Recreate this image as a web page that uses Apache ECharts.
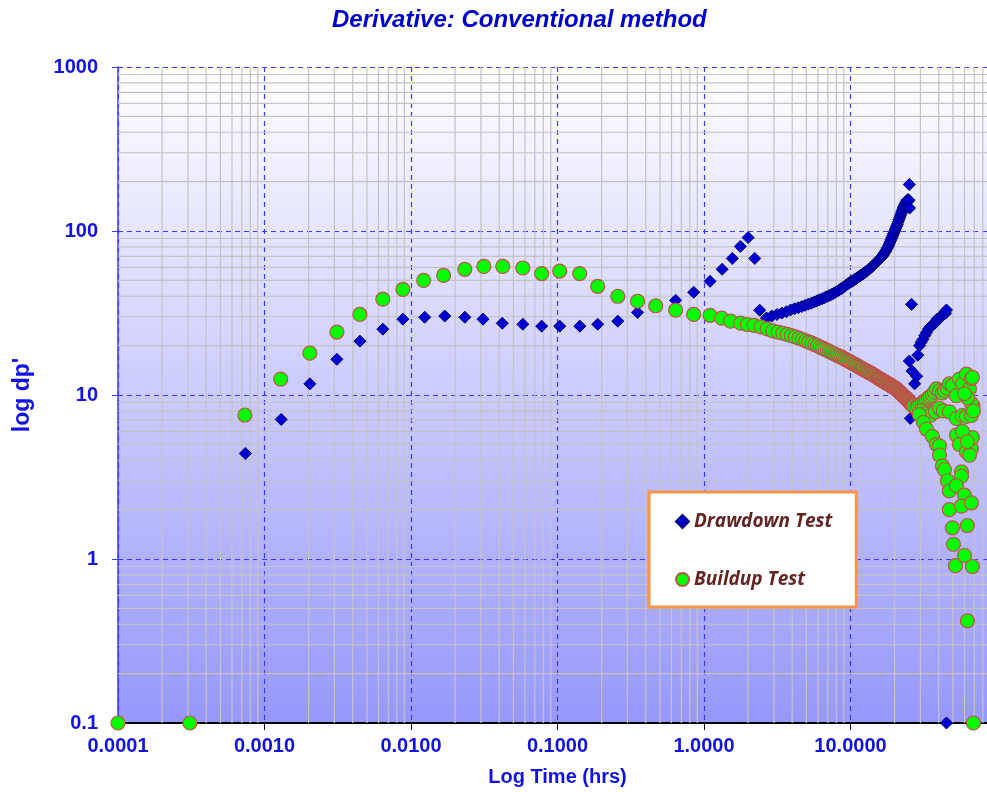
<!DOCTYPE html>
<html>
<head>
<meta charset="utf-8">
<script src="https://cdn.jsdelivr.net/npm/echarts@6/dist/echarts.min.js"></script>
<style>
html,body{margin:0;padding:0;overflow:hidden;background:#fff;}
#chart{width:1000px;height:792px;}
</style>
</head>
<body>
<div id="chart"></div>
<script>
// ---- data: [time (hrs), dp'] ----
const drawdownEarly = [[0.00074,4.4],[0.0013,7.1],[0.00204,11.7],[0.00312,16.5],[0.00448,21.3],[0.00642,25.2],[0.0088,29],[0.0124,29.8],[0.017,30.3],[0.0233,29.8],[0.031,29],[0.042,27.4],[0.058,27],[0.078,26.3],[0.1035,26.3],[0.142,26.3],[0.188,27],[0.258,28.2],[0.352,31.9],[0.47,35.5],[0.64,37.8],[0.85,42.3],[1.1,49.3],[1.33,58.4],[1.56,68],[1.77,80.5],[2.0,91.2],[2.22,68],[2.4,32.9]];
const drawdownMid = [[2.67,29.5],[2.9,30.3],[3.15,31.0],[3.4,31.6],[3.65,32.2],[3.9,33.0],[4.15,33.6],[4.4,34.1],[4.65,34.6],[4.9,35.2],[5.15,35.8],[5.4,36.3],[5.65,36.9],[5.9,37.5],[6.15,38.1],[6.4,38.6],[6.65,39.2],[6.9,39.8],[7.15,40.4],[7.4,41.0],[7.65,41.6],[7.9,42.3],[8.15,43.0],[8.4,43.8],[8.65,44.5],[8.9,45.3],[9.15,46.1],[9.4,47.0],[9.65,47.9],[9.9,48.5],
  [10.15,49.1],[10.4,49.8],[10.65,50.5],[10.9,51.2],[11.15,51.9],[11.4,52.6],[11.65,53.3],[11.9,54.0],[12.15,54.7],[12.4,55.4],[12.65,56.2],[12.9,57.0],[13.15,57.8],[13.4,58.6],[13.65,59.4],[13.9,60.3],[14.15,61.1],[14.4,62.0],[14.65,62.9],[14.9,63.8],[15.15,64.7],[15.4,65.7],[15.65,66.7],[15.9,67.7],[16.15,68.7],[16.4,69.8],[16.65,71.1],[16.9,72.5],[17.15,74.0],[17.4,75.6],[17.65,77.3],[17.9,79.0],[18.15,81.2],[18.4,83.5],[18.65,86.0],[18.9,88.5],[19.15,91.0],[19.4,93.5],[19.65,96.2],[19.9,99],[20.15,101.5],[20.4,104],[20.65,107],[20.9,110],[21.15,113.5],[21.4,117],[21.65,120.5],[21.9,124],[22.15,127.5],[22.4,131],[22.65,134.5],[22.9,138],[23.15,141],[23.4,144],[23.65,147],[23.9,150],[24.15,152],[24.4,154],[24.65,155],[24.9,155],[25.0,153],[25.3,138],[25.2,192]];
const drawdownLate = [[26.1,35.7],[25.6,7.2],[25.2,16.1],[26.3,14.0],[27.4,11.7],[28.3,13.0],[28.8,17.5],[29.6,20],[30.4,21.0],[31.2,21.8],[32.1,23.0],[33.0,24.0],[34.0,25.2],[35.0,26.0],[35.9,26.6],[37.4,27.2],[38.2,28.0],[39.0,29.0],[40.5,29.6],[41.8,30.2],[43.0,31.0],[43.9,32.0],[44.5,31.5],[45.2,33.0],[45.2,0.1]];

const buildupEarly = [[0.0001,0.1],[0.00031,0.1],[0.000735,7.55],[0.00129,12.5],[0.00204,18],[0.00312,24.2],[0.00448,31],[0.00642,38.4],[0.0088,44],[0.0122,50],[0.0167,53.6],[0.0233,58.4],[0.0314,60.8],[0.0423,60.8],[0.058,59.5],[0.078,55],[0.1035,57],[0.1417,55],[0.188,46],[0.258,40],[0.352,37.3],[0.468,35],[0.64,32.9],[0.85,31],[1.1,30.6],[1.32,29.4],[1.52,28.2],[1.78,27.4],[1.98,26.9]];
const buildupMid = [[2.2,26.6],[2.45,26.0],[2.7,25.3],[2.95,24.6],[3.2,24.2],[3.45,23.8],[3.7,23.4],[3.95,23.0],[4.2,22.6],[4.45,22.2],[4.7,21.8],[4.95,21.4],[5.2,21.0],[5.45,20.7],[5.7,20.3],[5.95,20.0],[6.2,19.6],[6.45,19.3],[6.7,19.0],[6.95,18.7],[7.2,18.4],[7.45,18.1],[7.7,17.9],[7.95,17.6],[8.2,17.4],[8.45,17.2],[8.7,17.0],[8.95,16.7],[9.2,16.5],[9.45,16.3],[9.7,16.1],[9.95,15.9],
  [10.2,15.7],[10.45,15.5],[10.7,15.4],[10.95,15.2],[11.2,15.0],[11.45,14.8],[11.7,14.7],[11.95,14.5],[12.2,14.4],[12.45,14.2],[12.7,14.1],[12.95,14.0],[13.2,13.8],[13.45,13.7],[13.7,13.6],[13.95,13.5],[14.2,13.3],[14.45,13.2],[14.7,13.1],[14.95,13.0],[15.2,12.8],[15.45,12.7],[15.7,12.6],[15.95,12.5],[16.2,12.4],[16.45,12.3],[16.7,12.2],[16.95,12.1],[17.2,12.0],[17.45,11.9],[17.7,11.8],[17.95,11.7],[18.2,11.65],[18.45,11.6],[18.7,11.5],[18.95,11.4],[19.2,11.3],[19.45,11.2],[19.7,11.15],[19.95,11.1],[20.2,11.0],[20.45,10.9],[20.7,10.8],[20.95,10.7],[21.2,10.6],[21.45,10.5],[21.7,10.4],[21.95,10.3],[22.2,10.2],[22.45,10.1],[22.7,10.0],[22.95,9.9],[23.2,9.8],[23.45,9.7],[23.7,9.65],[23.95,9.6],[24.2,9.5],[24.45,9.4],[24.7,9.3],[24.95,9.2],[25.2,9.1],[25.45,9.0],[25.7,8.9],[25.95,8.8],[26.2,8.75],[26.45,8.7],[26.7,8.6],[26.95,8.5]];
const buildupLate = [[28,8.4],[29,8.6],[30,8.8],[31,9.0],[32,9.1],[33,9.3],[34,9.6],[35,9.8],[36.2,10.0],[37.4,10.4],[38.6,10.9],[40.5,10.6],[42.4,10.3],[43.8,10.6],[45.9,11.0],[47.3,11.7],[49.6,11.4],[52.8,9.9],[55.4,12.5],[58.1,11.7],[61.8,13.4],[64.9,10.9],[66.9,12.6],[68.0,12.8],[68.5,8.6],[66.9,8.9],[63,9.6],[60,10.2],
  [30.5,8.0],[32,7.7],[35,7.5],[38,7.9],[40.5,8.3],[43,8.0],[47.3,7.9],[52.8,7.2],[58,7.5],[61.8,7.4],[66.9,7.5],[69,8.0],
  [29.5,7.6],[31.5,6.8],[33.0,6.2],[36.2,5.6],[38.6,5.0],[40.5,4.9],[40.5,4.3],[42.4,3.7],[43.8,3.5],[45.9,3.0],[47.3,2.6],[47.3,2.0],[49.6,1.55],[50.4,1.23],[52.0,0.91],[52.8,5.7],[55.4,5.0],[61.8,4.5],[66.9,4.7],[64.9,4.3],[68.0,5.5],[58.1,6.0],[62.8,5.2],[57.2,3.4],[57.2,3.2],[52.8,2.8],[60,2.45],[57.2,2.1],[66.9,2.2],[62.8,1.6],[60,1.05],[68,0.9],[62.8,0.42],[69,0.1]];

const xDecades = [0.0001, 0.001, 0.01, 0.1, 1, 10];
const yDecades = [0.1, 1, 10, 100];
const minorMultipliers = [2,3,4,5,6,7,8,9];

const drawdown = drawdownEarly.concat(drawdownMid, drawdownLate);
const buildup = buildupEarly.concat(buildupMid, buildupLate);

const minorX = [], minorY = [];
xDecades.forEach(d => minorMultipliers.forEach(m => minorX.push(+(d*m).toPrecision(3))));
yDecades.forEach(d => minorMultipliers.forEach(m => minorY.push(+(d*m).toPrecision(3))));
const minorLines = minorX.map(v => [v, 'x']).concat(minorY.map(v => [v, 'y']));

const blue = '#1212e6';
const chart = echarts.init(document.getElementById('chart'), null, {renderer: 'canvas'});
chart.setOption({
  animation: false,
  title: {
    text: 'Derivative: Conventional method',
    left: 327, top: 3,
    textStyle: {fontFamily: 'Liberation Sans', fontSize: 24, fontWeight: 'bold', fontStyle: 'italic', color: '#0000cc'}
  },
  grid: {
    left: 118, top: 67, right: 2, bottom: 67,
    show: true, borderWidth: 0,
    backgroundColor: {type: 'linear', x: 0, y: 0, x2: 0, y2: 1,
      colorStops: [{offset: 0, color: '#ffffff'}, {offset: 1, color: '#9797fb'}]}
  },
  legend: {
    data: ['Drawdown Test', 'Buildup Test'],
    orient: 'vertical',
    left: 649, top: 492, z: 20,
    padding: [20, 24, 18, 26],
    itemGap: 39, itemWidth: 13, itemHeight: 13,
    backgroundColor: '#ffffff', borderColor: '#f79646', borderWidth: 3,
    textStyle: {fontFamily: 'Open Sans', fontSize: 19, fontWeight: 'bold', fontStyle: 'italic', color: '#632523'}
  },
  xAxis: {
    type: 'log', logBase: 10, min: 0.0001, max: 100, splitNumber: 6,
    name: 'Log Time (hrs)', nameLocation: 'middle', nameGap: 44,
    nameTextStyle: {fontFamily: 'Liberation Sans', fontSize: 20, fontWeight: 'bold', color: blue},
    axisLine: {lineStyle: {color: '#000000', width: 2}},
    axisTick: {show: true, inside: false, length: 7, lineStyle: {color: '#000000'}},
    axisLabel: {margin: 13, fontFamily: 'Liberation Sans', fontSize: 20, fontWeight: 'bold', color: blue,
      formatter: v => v >= 99 ? '' : Number(v).toFixed(4)},
    splitLine: {show: true, lineStyle: {color: '#3a3aff', type: [5, 4], width: 1.2}},
    minorTick: {show: false}, minorSplitLine: {show: false}
  },
  yAxis: {
    type: 'log', logBase: 10, min: 0.1, max: 1000, splitNumber: 4,
    name: "log dp'", nameLocation: 'middle', nameGap: 84, nameRotate: 90,
    nameTextStyle: {fontFamily: 'Liberation Sans', fontSize: 23, fontWeight: 'bold', color: blue},
    axisLine: {lineStyle: {color: '#3a3aff', width: 1.5}},
    axisTick: {show: true, inside: false, length: 6, lineStyle: {color: '#3a3aff'}},
    axisLabel: {margin: 20, fontFamily: 'Liberation Sans', fontSize: 20, fontWeight: 'bold', color: blue,
      formatter: v => String(+Number(v).toPrecision(3))},
    splitLine: {show: true, lineStyle: {color: '#3a3aff', type: [5, 4], width: 1.2}},
    minorTick: {show: false}, minorSplitLine: {show: false}
  },
  series: [
    {
      name: 'minor-grid', type: 'custom', z: 1, silent: true, clip: true,
      data: minorLines,
      renderItem: function (params, api) {
        const v = minorLines[params.dataIndex][0];
        const dir = minorLines[params.dataIndex][1];
        const cs = params.coordSys;
        let p1, p2;
        if (dir === 'x') {
          const px = api.coord([v, 1])[0];
          p1 = [px, cs.y]; p2 = [px, cs.y + cs.height];
        } else {
          const py = api.coord([1, v])[1];
          p1 = [cs.x, py]; p2 = [cs.x + cs.width, py];
        }
        return {type: 'line', shape: {x1: p1[0], y1: p1[1], x2: p2[0], y2: p2[1]},
          style: {stroke: '#c3c3c3', lineWidth: 1.2}};
      },
      encode: {x: -1, y: -1}
    },
    {
      name: 'Drawdown Test', type: 'scatter', data: drawdown, z: 3,
      symbol: 'diamond', symbolSize: 12,
      itemStyle: {color: '#0000d0', borderColor: '#00007a', borderWidth: 1, opacity: 1}
    },
    {
      name: 'Buildup Test', type: 'scatter', data: buildup, z: 4,
      symbol: 'circle', symbolSize: 14,
      itemStyle: {color: '#00ff00', borderColor: '#c0504d', borderWidth: 1.2, opacity: 1}
    }
  ]
});
</script>
</body>
</html>
